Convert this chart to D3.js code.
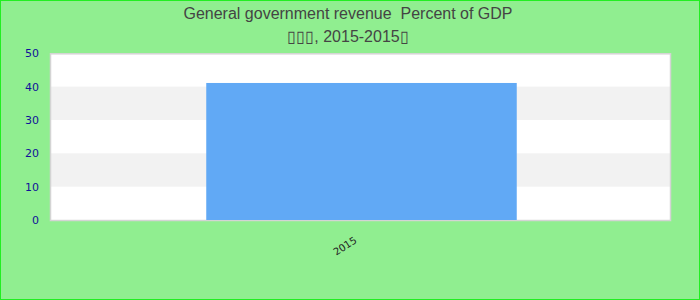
<!DOCTYPE html>
<html><head><meta charset="utf-8">
<script src="https://cdn.jsdelivr.net/npm/d3@7"></script>
<style>html,body{margin:0;padding:0;background:#90EE90;}svg{display:block;}</style>
</head><body>
<svg id="c" width="700" height="300"></svg>
<script>
const categories = ["2015"];
const values = [41.1];
const yTicks = [0, 10, 20, 30, 40, 50];
const title = "General government revenue  Percent of GDP";
const subtitle = "\u25AF\u25AF\u25AF, 2015-2015\u25AF";

const svg = d3.select("#c");
const W = 700, H = 300;
const m = {left: 50, right: 30, top: 53.3, bottom: 80};
svg.append("rect").attr("x", 0.5).attr("y", 0.5).attr("width", W - 1).attr("height", H - 1)
  .attr("fill", "#90EE90").attr("stroke", "#22ee22").attr("stroke-width", 1);

const x = d3.scaleBand().domain(categories).range([m.left + 1, W - m.right + 2]).paddingInner(0.5).paddingOuter(0.25);
const y = d3.scaleLinear().domain([0, 50]).range([H - m.bottom, m.top]);

svg.append("rect").attr("x", m.left).attr("y", y(50)).attr("width", W - m.left - m.right)
  .attr("height", y(0) - y(50)).attr("fill", "#fff");
const bands = d3.range(0, yTicks.length - 1).filter(i => i % 2 === 1);
svg.selectAll(".band").data(bands).enter().append("rect")
  .attr("x", m.left).attr("width", W - m.left - m.right)
  .attr("y", i => y(yTicks[i + 1])).attr("height", i => y(yTicks[i]) - y(yTicks[i + 1]))
  .attr("fill", "#f2f2f2");
svg.append("rect").attr("x", m.left + 0.5).attr("y", y(50) + 0.5).attr("width", W - m.left - m.right)
  .attr("height", y(0) - y(50)).attr("fill", "none").attr("stroke", "#d4d4d4").attr("stroke-width", 1.5);

svg.selectAll(".bar").data(values).enter().append("rect")
  .attr("x", (d, i) => x(categories[i])).attr("width", x.bandwidth())
  .attr("y", d => y(d)).attr("height", d => y(0) - y(d)).attr("fill", "#61a9f5");

const ya = svg.append("g").attr("transform", `translate(${m.left},0)`)
  .call(d3.axisLeft(y).tickValues(yTicks).tickSize(0).tickPadding(11));
ya.select(".domain").remove();
ya.selectAll("text").attr("fill", "#111199").style("font-family", "DejaVu Sans, sans-serif").style("font-size", "11px");

const xa = svg.append("g").attr("transform", `translate(0,${y(0)})`)
  .call(d3.axisBottom(x).tickSize(0).tickPadding(0));
xa.select(".domain").remove();
xa.selectAll("text").attr("fill", "#222").style("font-family", "DejaVu Sans, sans-serif").style("font-size", "10px")
  .attr("text-anchor", "end").attr("dy", 0)
  .attr("transform", "translate(-4,22) rotate(-33)");

svg.append("text").attr("x", 348).attr("y", 19).attr("text-anchor", "middle").style("white-space", "pre")
  .attr("fill", "#444").style("font-family", "Liberation Sans, Arial, sans-serif").style("font-size", "16px").text(title);
svg.append("text").attr("x", 348).attr("y", 42).attr("text-anchor", "middle").style("white-space", "pre")
  .attr("fill", "#444").style("font-family", "Liberation Sans, Arial, sans-serif").style("font-size", "16px").text(subtitle);
</script>
</body></html>
